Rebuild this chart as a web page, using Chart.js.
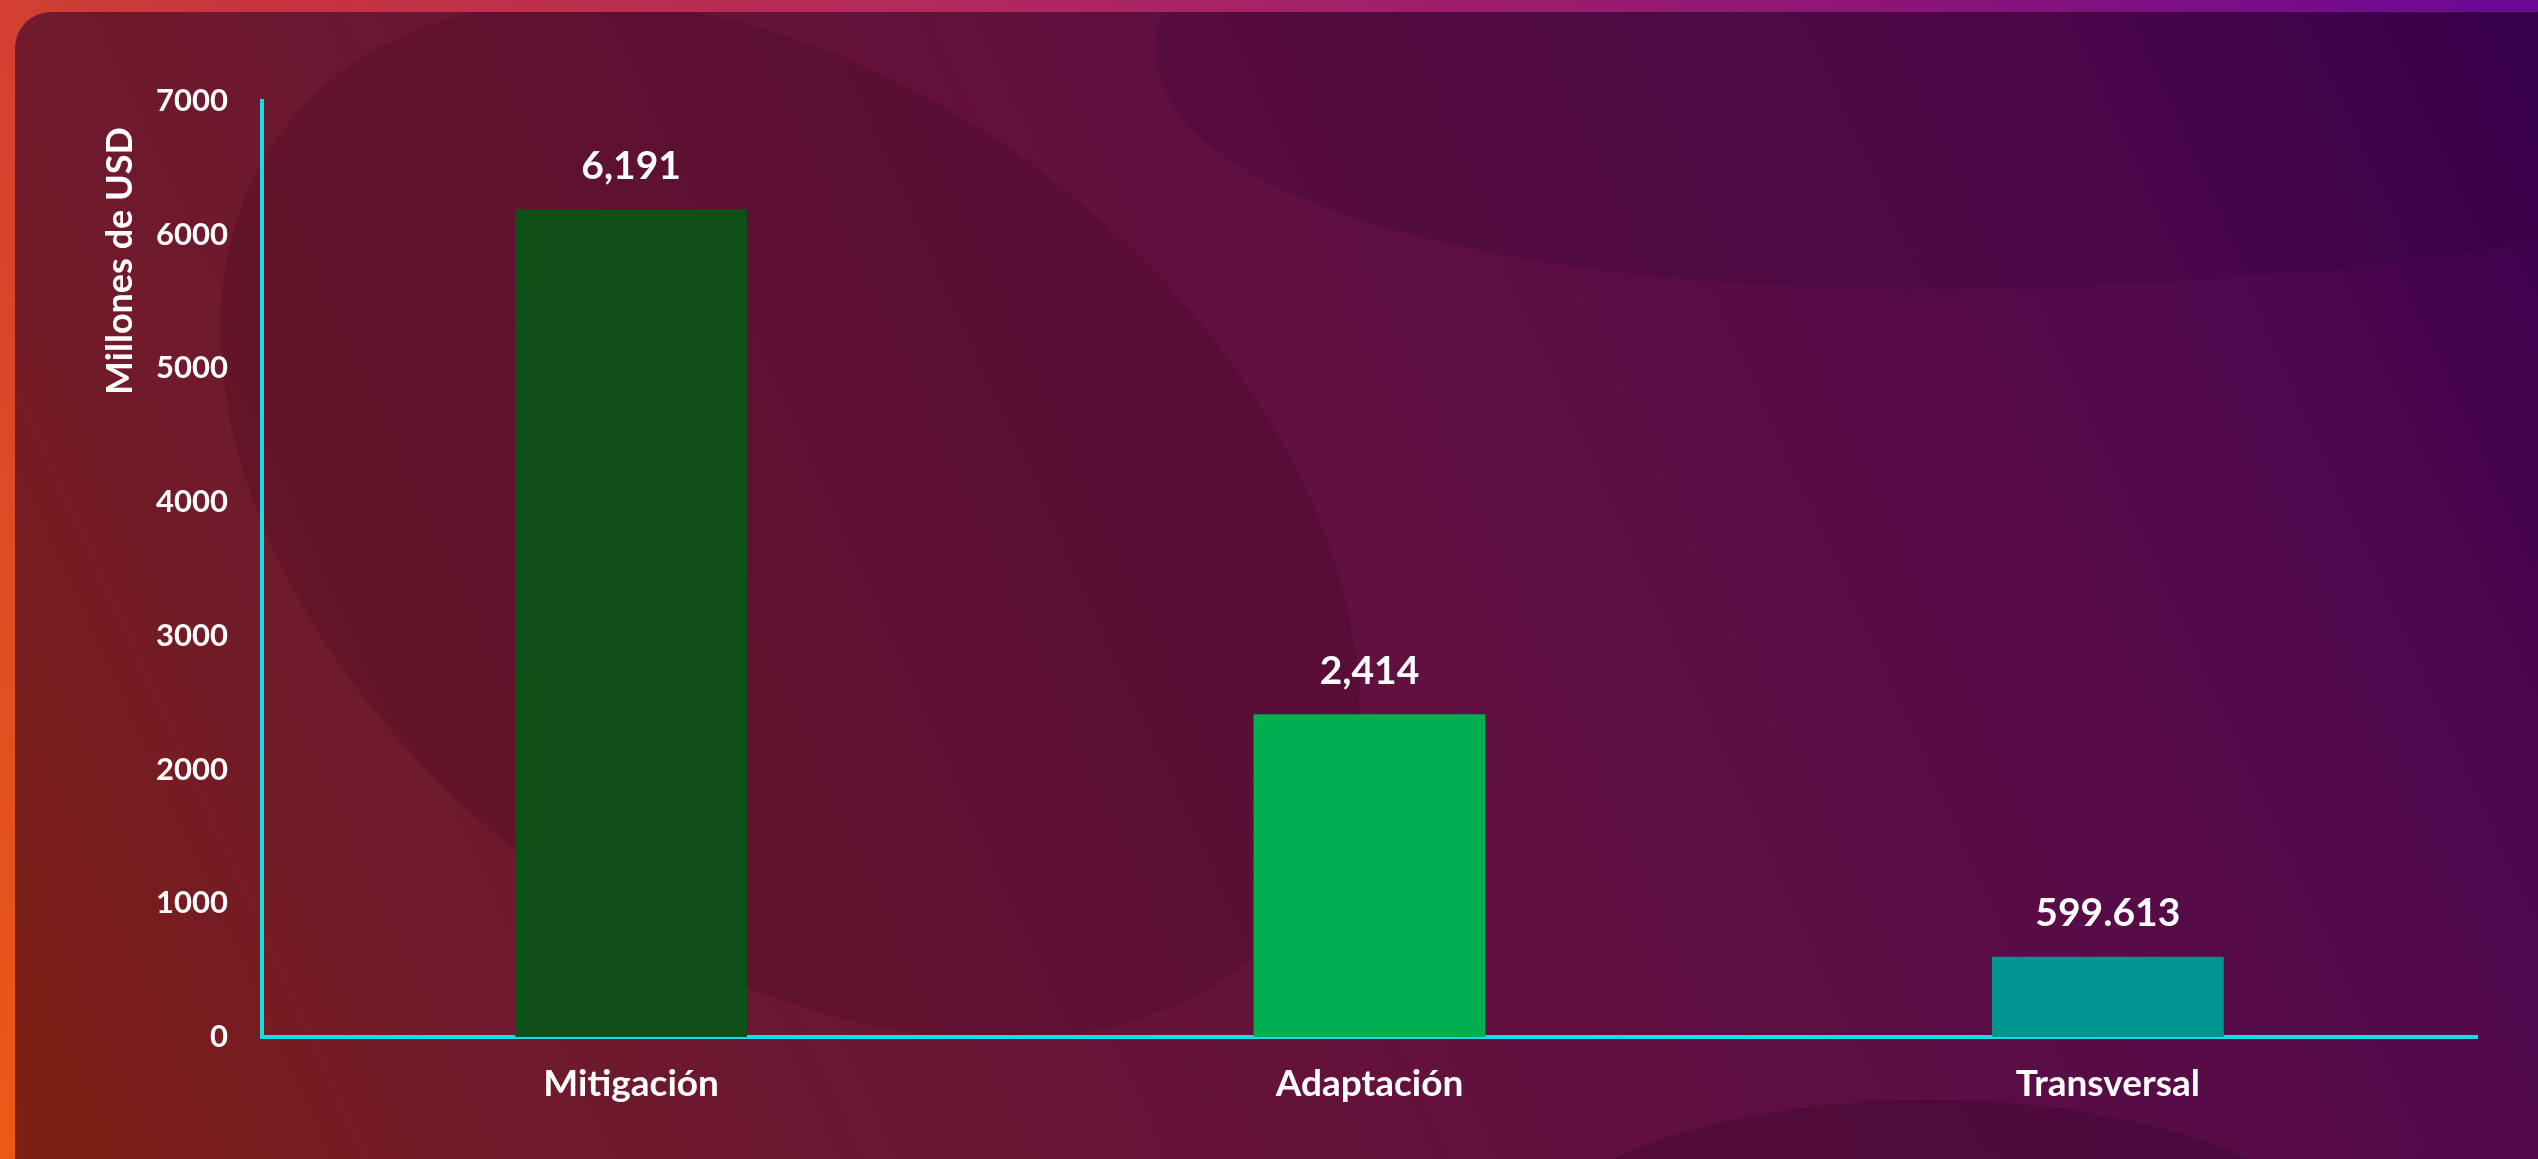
<!DOCTYPE html>
<html>
<head>
<meta charset="utf-8">
<script src="https://cdn.jsdelivr.net/npm/chart.js@4.4.1/dist/chart.umd.min.js"></script>
<style>
  html, body { margin: 0; padding: 0; width: 2538px; height: 1159px; overflow: hidden; }
  #wrap { position: relative; width: 2538px; height: 1159px; }
  #bg { position: absolute; left: 0; top: 0; }
  #chart { position: absolute; left: 0; top: 0; }
</style>
</head>
<body>
<div id="wrap">
<svg id="bg" width="2538" height="1159" viewBox="0 0 2538 1159" xmlns="http://www.w3.org/2000/svg">
  <defs>
    <linearGradient id="outer" gradientUnits="userSpaceOnUse" x1="0" y1="1159" x2="2538" y2="0">
      <stop offset="0" stop-color="#ea5a16"/>
      <stop offset="0.25" stop-color="#c8343e"/>
      <stop offset="0.5" stop-color="#b02860"/>
      <stop offset="0.8" stop-color="#8a1478"/>
      <stop offset="1" stop-color="#6a0896"/>
    </linearGradient>
    <linearGradient id="panel" gradientUnits="userSpaceOnUse" x1="15" y1="1159" x2="2538" y2="12">
      <stop offset="0" stop-color="#7e2012"/>
      <stop offset="0.17" stop-color="#701a2c"/>
      <stop offset="0.5" stop-color="#62103e"/>
      <stop offset="0.83" stop-color="#520a4c"/>
      <stop offset="1" stop-color="#3a004e"/>
    </linearGradient>
  </defs>
  <rect x="0" y="0" width="2538" height="1159" fill="url(#outer)"/>
  <rect x="15" y="12" width="2600" height="1250" rx="36" ry="36" fill="url(#panel)"/>
  <clipPath id="pc"><rect x="15" y="12" width="2600" height="1250" rx="36" ry="36"/></clipPath>
  <g clip-path="url(#pc)">
    <ellipse cx="790" cy="520" rx="640" ry="430" transform="rotate(38 790 520)" fill="#2a0018" fill-opacity="0.16"/>
    <ellipse cx="2300" cy="-60" rx="1150" ry="330" transform="rotate(-6 2300 -60)" fill="#1e0030" fill-opacity="0.14"/>
    <ellipse cx="1930" cy="1270" rx="420" ry="170" fill="#200018" fill-opacity="0.2"/>
  </g>
</svg>
<canvas id="chart" width="2538" height="1159"></canvas>
</div>
<script>
const categories = ['Mitigación', 'Adaptación', 'Transversal'];
const values = [6191, 2414, 599.613];
const valueLabels = ['6,191', '2,414', '599.613'];
const barColors = ['#0f5019', '#00b050', '#00958f'];
const yTicks = [0, 1000, 2000, 3000, 4000, 5000, 6000, 7000];
const yTitle = 'Millones de USD';

const FONT = 'Lato, "Open Sans", sans-serif';

const overlay = {
  id: 'overlay',
  afterDatasetsDraw(chart) {
    const ctx = chart.ctx;
    const meta = chart.getDatasetMeta(0);
    ctx.save();
    ctx.fillStyle = '#ffffff';
    ctx.font = 'bold 39px ' + FONT;
    ctx.textAlign = 'center';
    ctx.textBaseline = 'middle';
    meta.data.forEach((bar, i) => {
      ctx.fillText(valueLabels[i], bar.x, bar.y - 43);
    });
    ctx.restore();
  },
  afterDraw(chart) {
    const ctx = chart.ctx;
    const area = chart.chartArea;
    ctx.save();
    ctx.fillStyle = '#ffffff';
    ctx.font = 'bold 36px ' + FONT;
    ctx.textAlign = 'center';
    ctx.textBaseline = 'middle';
    ctx.translate(120, area.top + 160);
    ctx.rotate(-Math.PI / 2);
    ctx.fillText(yTitle, 0, 0);
    ctx.restore();
  }
};

function draw() {
  new Chart(document.getElementById('chart'), {
    type: 'bar',
    data: {
      labels: categories,
      datasets: [{
        data: values,
        backgroundColor: barColors,
        borderWidth: 0,
        categoryPercentage: 1,
        barPercentage: 0.314
      }]
    },
    options: {
      responsive: false,
      animation: false,
      devicePixelRatio: 1,
      layout: { padding: { top: 101, right: 61, bottom: 0, left: 0 } },
      plugins: { legend: { display: false }, tooltip: { enabled: false } },
      scales: {
        x: {
          grid: { display: false, drawTicks: false },
          border: { display: true, color: '#19dde6', width: 4 },
          ticks: { color: '#ffffff', font: { family: FONT, size: 37, weight: 'bold' }, padding: 25 },
          afterFit(scale) { scale.height = 122; }
        },
        y: {
          min: 0,
          max: 7000,
          afterBuildTicks(scale) { scale.ticks = yTicks.map(v => ({ value: v })); },
          grid: { display: false, drawTicks: false },
          border: { display: true, color: '#19dde6', width: 4 },
          ticks: {
            color: '#ffffff',
            font: { family: FONT, size: 31, weight: 'bold' },
            padding: 34,
            callback: (v) => String(v)
          },
          afterFit(scale) { scale.width = 262; }
        }
      }
    },
    plugins: [overlay]
  });
}

if (document.fonts && document.fonts.load) {
  Promise.all([
    document.fonts.load('bold 36px Lato')
  ]).then(draw, draw);
} else {
  draw();
}
</script>
</body>
</html>
